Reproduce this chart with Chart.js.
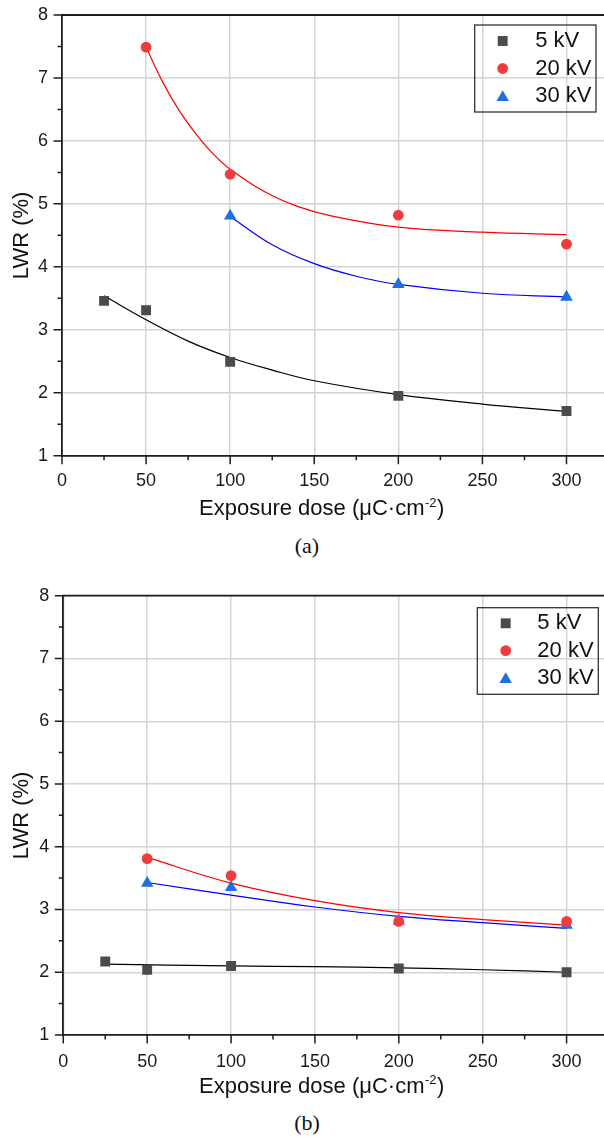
<!DOCTYPE html>
<html>
<head>
<meta charset="utf-8">
<title>LWR vs exposure dose</title>
<script src="https://cdn.jsdelivr.net/npm/chart.js@4.4.1/dist/chart.umd.min.js"></script>
<style>
  html, body { margin: 0; padding: 0; background: #fff; }
  body { position: relative; width: 604px; height: 1137px; overflow: hidden; }
  canvas { position: absolute; left: 0; }
  #chart-a { top: 0; }
  #chart-b { top: 580px; }
  .caption {
    position: absolute; left: 0; width: 614px; text-align: center;
    font-family: "Liberation Serif", "DejaVu Serif", serif; font-size: 22px; line-height: 22px; color: #111;
  }
</style>
</head>
<body>
<canvas id="chart-a" width="604" height="530"></canvas>
<div class="caption" style="top:535px">(a)</div>
<canvas id="chart-b" width="604" height="530"></canvas>
<div class="caption" style="top:1112px">(b)</div>
<script>
// axes
const xTicks = [0, 50, 100, 150, 200, 250, 300];
const xMinorTicks = [25, 75, 125, 175, 225, 275];
const yTicks = [1, 2, 3, 4, 5, 6, 7, 8];
const yMinorTicks = [1.5, 2.5, 3.5, 4.5, 5.5, 6.5, 7.5];
const seriesNames = ['5 kV', '20 kV', '30 kV'];

// (a) measured LWR
const doseA5 = [25, 50, 100, 200, 300];
const lwrA5 = [3.46, 3.31, 2.49, 1.95, 1.71];
const doseA20 = [50, 100, 200, 300];
const lwrA20 = [7.49, 5.47, 4.82, 4.36];
const doseA30 = [100, 200, 300];
const lwrA30 = [4.81, 3.72, 3.52];

// (a) fitted curves
const fitDoseA5 = [25, 50, 75, 100, 125, 150, 200, 250, 300];
const fitA5 = [3.54, 3.16, 2.82, 2.56, 2.36, 2.19, 1.97, 1.82, 1.70];
const fitDoseA20 = [50, 60, 70, 80, 90, 100, 120, 140, 160, 200, 250, 300];
const fitA20 = [7.49, 6.93, 6.47, 6.10, 5.79, 5.55, 5.20, 4.96, 4.81, 4.63, 4.55, 4.51];
const fitDoseA30 = [100, 125, 150, 175, 200, 250, 300];
const fitA30 = [4.80, 4.35, 4.05, 3.85, 3.72, 3.58, 3.52];

// (b) measured LWR
const doseB5 = [25, 50, 100, 200, 300];
const lwrB5 = [2.17, 2.04, 2.10, 2.06, 2.00];
const doseB20 = [50, 100, 200, 300];
const lwrB20 = [3.81, 3.54, 2.81, 2.81];
const doseB30 = [50, 100, 200, 300];
const lwrB30 = [3.42, 3.35, 2.82, 2.75];

// (b) fitted curves
const fitDoseB5 = [25, 100, 150, 200, 250, 300];
const fitB5 = [2.13, 2.10, 2.09, 2.07, 2.04, 2.00];
const fitDoseB20 = [50, 100, 150, 200, 250, 300];
const fitB20 = [3.83, 3.42, 3.14, 2.95, 2.84, 2.75];
const fitDoseB30 = [50, 100, 150, 200, 250, 300];
const fitB30 = [3.43, 3.23, 3.04, 2.89, 2.79, 2.70];

const FONT = '"Liberation Sans", Arial, sans-serif';
Chart.defaults.font.family = FONT;

const markers = [
  { color: '#4b4b4b', style: 'rect', radius: 7 },
  { color: '#f03c3c', style: 'circle', radius: 5.4 },
  { color: '#1e6fe0', style: 'triangle', radius: 7.2 },
];
const fitColors = ['#000000', '#ff0000', '#0000ff'];

const pair = (xs, ys) => xs.map((x, i) => ({ x, y: ys[i] }));

function buildDatasets(points, fits) {
  const pts = points.map((p, i) => ({
    label: seriesNames[i],
    data: pair(p[0], p[1]),
    showLine: false,
    pointStyle: markers[i].style,
    pointRadius: markers[i].radius,
    pointHoverRadius: markers[i].radius,
    pointBackgroundColor: markers[i].color,
    pointBorderWidth: 0,
    backgroundColor: markers[i].color,
    borderColor: markers[i].color,
  }));
  const lines = fits.map((f, i) => ({
    label: seriesNames[i] + ' fit',
    data: pair(f[0], f[1]),
    showLine: true,
    pointRadius: 0,
    borderColor: fitColors[i],
    borderWidth: 1.2,
    tension: 0.4,
    fill: false,
  }));
  return pts.concat(lines);
}

// top frame line + major/minor tick marks (outward)
const frameTicks = {
  id: 'frameTicks',
  afterDraw(chart) {
    const { ctx, chartArea: a, scales: { x, y } } = chart;
    ctx.save();
    ctx.strokeStyle = '#1e1e1e';
    ctx.lineWidth = 1.8;
    ctx.beginPath();
    ctx.moveTo(a.left - 1, a.top);
    ctx.lineTo(a.right, a.top);
    ctx.stroke();
    ctx.lineWidth = 1.5;
    ctx.beginPath();
    const xt = (v, len) => { const p = x.getPixelForValue(v); ctx.moveTo(p, a.bottom); ctx.lineTo(p, a.bottom + len); };
    const yt = (v, len) => { const p = y.getPixelForValue(v); ctx.moveTo(a.left, p); ctx.lineTo(a.left - len, p); };
    xTicks.forEach((v) => xt(v, 8.5));
    xMinorTicks.forEach((v) => xt(v, 4.5));
    yTicks.forEach((v) => yt(v, 8.5));
    yMinorTicks.forEach((v) => yt(v, 4.5));
    ctx.stroke();
    ctx.restore();
  },
};

// boxed legend in the upper right of the plot
const boxLegend = {
  id: 'boxLegend',
  afterDraw(chart, args, o) {
    const { ctx } = chart;
    ctx.save();
    ctx.strokeStyle = '#333';
    ctx.lineWidth = 1.3;
    ctx.strokeRect(o.x, o.y, o.w, o.h);
    ctx.font = '22px ' + FONT;
    ctx.textBaseline = 'middle';
    ctx.textAlign = 'left';
    seriesNames.forEach((name, i) => {
      const cy = o.y + o.rowTop + i * o.rowGap;
      ctx.fillStyle = markers[i].color;
      Chart.helpers.drawPoint(ctx, { pointStyle: markers[i].style, radius: markers[i].radius, borderWidth: 0, rotation: 0 },
        o.x + o.markX, cy + (markers[i].style === 'triangle' ? 1.5 : 0));
      ctx.fillStyle = '#111';
      ctx.fillText(name, o.x + o.textX, cy);
    });
    ctx.restore();
  },
};

// x title with superscript
const doseTitle = {
  id: 'doseTitle',
  afterDraw(chart, args, o) {
    const { ctx } = chart;
    const main = 'Exposure dose (\u03bcC\u00b7cm', sup = '-2', close = ')';
    const big = '22px ' + FONT, small = '13px ' + FONT;
    ctx.save();
    ctx.fillStyle = '#111';
    ctx.textBaseline = 'alphabetic';
    ctx.textAlign = 'left';
    ctx.font = big;
    const w1 = ctx.measureText(main).width, w3 = ctx.measureText(close).width;
    ctx.font = small;
    const w2 = ctx.measureText(sup).width + 1;
    let x = o.cx - (w1 + w2 + w3) / 2;
    ctx.font = big; ctx.fillText(main, x, o.baseline); x += w1;
    ctx.font = small; ctx.fillText(sup, x + 0.5, o.baseline - 8.5); x += w2;
    ctx.font = big; ctx.fillText(close, x, o.baseline);
    ctx.restore();
  },
};

function makeChart(id, points, fits, o) {
  const grid = { color: '#d3d3d3', lineWidth: 1.4, drawTicks: false };
  const border = { display: true, color: '#1e1e1e', width: 1.8 };
  return new Chart(document.getElementById(id), {
    type: 'scatter',
    data: { datasets: buildDatasets(points, fits) },
    plugins: [frameTicks, boxLegend, doseTitle],
    options: {
      responsive: false,
      animation: false,
      events: [],
      layout: { autoPadding: false, padding: { top: o.top, right: 0, bottom: 0, left: 0 } },
      plugins: {
        legend: { display: false },
        tooltip: { enabled: false },
        boxLegend: o.legend,
        doseTitle: o.title,
      },
      scales: {
        x: {
          type: 'linear', min: 0, max: 322.3,
          afterBuildTicks: (s) => { s.ticks = xTicks.map((v) => ({ value: v })); },
          afterFit: (s) => { s.height = o.xHeight; s.paddingLeft = 0; s.paddingRight = 0; },
          grid, border,
          ticks: { padding: o.xPad, color: '#1a1a1a', font: { size: 18 }, maxRotation: 0, autoSkip: false },
        },
        y: {
          type: 'linear', min: 1, max: 8,
          afterBuildTicks: (s) => { s.ticks = yTicks.map((v) => ({ value: v })); },
          afterFit: (s) => { s.width = o.left; s.paddingTop = 0; s.paddingBottom = 0; },
          grid, border,
          ticks: { padding: 14, color: '#1a1a1a', font: { size: 18 } },
          title: { display: true, text: 'LWR (%)', color: '#111', font: { size: 22 }, padding: { top: 9, bottom: 0 } },
        },
      },
    },
  });
}

makeChart('chart-a',
  [[doseA5, lwrA5], [doseA20, lwrA20], [doseA30, lwrA30]],
  [[fitDoseA5, fitA5], [fitDoseA20, fitA20], [fitDoseA30, fitA30]],
  { top: 15, left: 62, xHeight: 74.3, xPad: 15,
    legend: { x: 474.7, y: 25, w: 121.3, h: 87, rowTop: 16, rowGap: 27.5, markX: 28, textX: 60.5 },
    title: { cx: 321.7, baseline: 515 } });

makeChart('chart-b',
  [[doseB5, lwrB5], [doseB20, lwrB20], [doseB30, lwrB30]],
  [[fitDoseB5, fitB5], [fitDoseB20, fitB20], [fitDoseB30, fitB30]],
  { top: 15.7, left: 63.3, xHeight: 75, xPad: 16,
    legend: { x: 477.3, y: 27.7, w: 121, h: 86.6, rowTop: 15.6, rowGap: 27.3, markX: 28.4, textX: 60 },
    title: { cx: 321.7, baseline: 512.5 } });
</script>
</body>
</html>
